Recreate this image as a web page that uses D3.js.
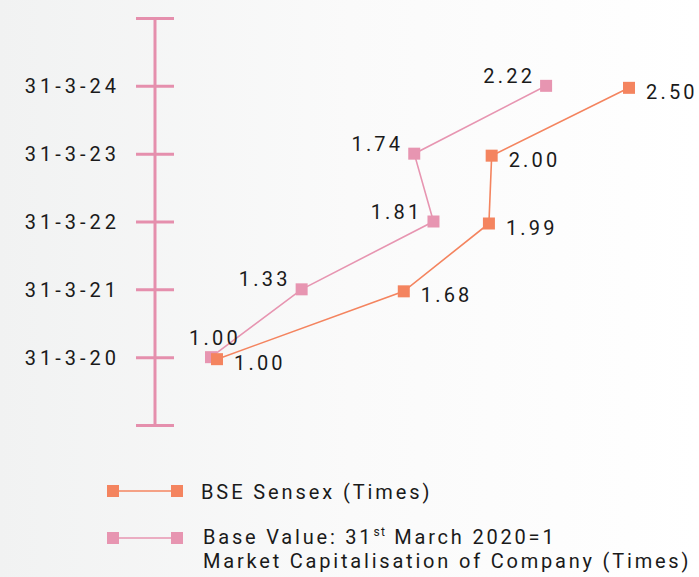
<!DOCTYPE html>
<html>
<head>
<meta charset="utf-8">
<script src="https://cdn.jsdelivr.net/npm/d3@7"></script>
<style>
  html, body { margin: 0; padding: 0; }
  body { width: 699px; height: 577px; overflow: hidden;
         background: linear-gradient(to right, #f1f2f2 0%, #fafafa 50%, #ffffff 100%); }
  text { font-family: Roboto, "Noto Sans", sans-serif; fill: #1a1a1a; }
</style>
</head>
<body>
<svg id="chart" width="699" height="577"></svg>
<script>
// ---- data ----
const years = [2020, 2021, 2022, 2023, 2024];
const dateLabels = ["31-3-20", "31-3-21", "31-3-22", "31-3-23", "31-3-24"];
const sensex = [1.00, 1.68, 1.99, 2.00, 2.50];
const marketCap = [1.00, 1.33, 1.81, 1.74, 2.22];
const legendLabels = ["BSE Sensex (Times)", "Base Value: 31st March 2020=1", "Market Capitalisation of Company (Times)"];

// ---- styles ----
const ORANGE = "#f4845f";
const PINK = "#e795b1";
const AXIS = "#e58fad";

const svg = d3.select("#chart");

const y = d3.scaleLinear().domain([2019, 2025]).range([425, 18]);
const x = d3.scaleLinear().domain([1, 2.5]).range([213, 625]);

// axis
const axisX = 155;
const axis = d3.axisLeft(y)
  .tickValues(d3.range(2019, 2026))
  .tickSize(19)
  .tickPadding(16)
  .tickFormat(v => { const i = years.indexOf(v); return i >= 0 ? dateLabels[i] : ""; });

const ag = svg.append("g").attr("transform", `translate(${axisX},0)`).call(axis);
ag.select(".domain").remove();
ag.selectAll(".tick line").attr("x1", -19).attr("x2", 19)
  .attr("stroke", AXIS).attr("stroke-width", 3);
ag.append("line").attr("x1", 0).attr("x2", 0).attr("y1", y(2025)).attr("y2", y(2019))
  .attr("stroke", AXIS).attr("stroke-width", 3);
ag.selectAll(".tick text")
  .attr("font-family", "Roboto").attr("font-size", 20).attr("fill", "#1a1a1a")
  .style("letter-spacing", "4px").attr("dy", "0.35em");

// series
const series = [
  { name: "cap", values: marketCap, color: PINK, dx: -2, dy: 0 },
  { name: "sensex", values: sensex, color: ORANGE, dx: 4, dy: 2 }
];

const line = d3.line().x(d => d.px).y(d => d.py);

series.forEach(s => {
  const pts = s.values.map((v, i) => ({ v, i, px: x(v) + s.dx, py: y(years[i]) + s.dy }));
  const g = svg.append("g");
  g.append("path").attr("d", line(pts)).attr("fill", "none")
    .attr("stroke", s.color).attr("stroke-width", 1.6);
  g.selectAll("rect").data(pts).join("rect")
    .attr("x", d => d.px - 6).attr("y", d => d.py - 6)
    .attr("width", 12).attr("height", 12).attr("fill", s.color);
  g.selectAll("text").data(pts).join("text")
    .attr("font-size", 20)
    .style("letter-spacing", "3.2px")
    .attr("text-anchor", d => s.name === "sensex" ? "start" : (d.i === 0 ? "middle" : "end"))
    .attr("x", d => s.name === "sensex" ? d.px + 17 : (d.i === 0 ? d.px + 4 : d.px - 11))
    .attr("y", d => s.name === "sensex" ? d.py + 11 : (d.i === 0 ? d.py - 12 : d.py - 3))
    .text(d => d.v.toFixed(2));
});

// legend
const leg = svg.append("g");
const legItems = [
  { color: ORANGE, y: 491 },
  { color: PINK, y: 538 }
];
legItems.forEach(l => {
  leg.append("line").attr("x1", 113).attr("x2", 177).attr("y1", l.y).attr("y2", l.y)
    .attr("stroke", l.color).attr("stroke-width", 1.6);
  [113, 177].forEach(cx => leg.append("rect").attr("x", cx - 6).attr("y", l.y - 6)
    .attr("width", 12).attr("height", 12).attr("fill", l.color));
});
leg.append("text").attr("x", 201).attr("y", 499).attr("font-size", 20)
  .style("letter-spacing", "2.9px").text(legendLabels[0]);
const t2 = leg.append("text").attr("x", 203).attr("y", 544).attr("font-size", 20)
  .style("letter-spacing", "2.8px");
t2.append("tspan").text("Base Value: 31");
t2.append("tspan").attr("font-size", 12).attr("dy", -8).style("letter-spacing", "1.5px").text("st");
t2.append("tspan").attr("dy", 8).text(" March 2020=1");
leg.append("text").attr("x", 203).attr("y", 568).attr("font-size", 20)
  .style("letter-spacing", "2.8px").text(legendLabels[2]);
</script>
</body>
</html>
